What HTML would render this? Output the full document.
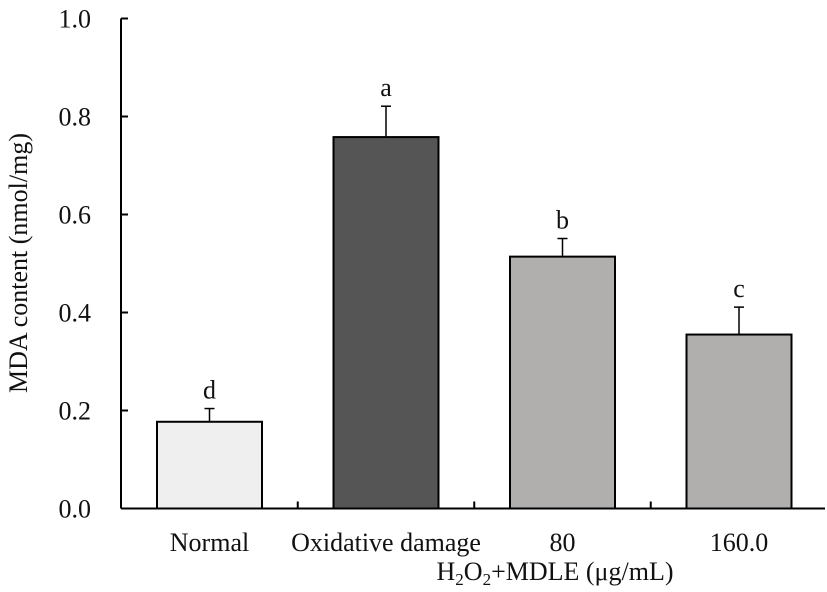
<!DOCTYPE html>
<html><head><meta charset="utf-8"><style>
body{margin:0;background:#fff}
svg text{font-family:"Liberation Serif",serif;fill:#111}
</style></head><body>
<svg id="chart" width="827" height="587" viewBox="0 0 827 587" xmlns="http://www.w3.org/2000/svg">
<g id="plot"></g>
<text transform="translate(27,263) rotate(-90)" text-anchor="middle" font-size="26">MDA content (nmol/mg)</text>
<text x="555" y="580" font-size="26" text-anchor="middle">H<tspan font-size="17" dy="5">2</tspan><tspan dy="-5">O</tspan><tspan font-size="17" dy="5">2</tspan><tspan dy="-5">+MDLE (μg/mL)</tspan></text>
</svg>
<script>
const categories=["Normal","Oxidative damage","80","160.0"];
const values=[0.177,0.758,0.514,0.355];
const errors=[0.027,0.063,0.037,0.056];
const letters=["d","a","b","c"];
const yTicks=[0.0,0.2,0.4,0.6,0.8,1.0];
const yTickLabels=["0.0","0.2","0.4","0.6","0.8","1.0"];
const fills=["#efefef","#555555","#b1aeae","#b1aeae"];

const NS="http://www.w3.org/2000/svg";
const g=document.getElementById('plot');
const x0=121,x1=825,yBase=508.5,yTop=18.5,catW=176.5,barW=105,firstC=209.5;
const y=v=>yBase-(v-0)/(1.0-0)*(yBase-yTop);
const xc=i=>firstC+i*catW;
function mk(tag,attrs){const e=document.createElementNS(NS,tag);for(const k in attrs)e.setAttribute(k,attrs[k]);g.appendChild(e);return e;}
let ya=mk('line',{x1:x0,y1:yTop,x2:x0,y2:yBase,stroke:'#000','stroke-width':2});


let xa=mk('line',{x1:x0,y1:yBase,x2:x1,y2:yBase,stroke:'#000','stroke-width':2});


yTicks.forEach((t,i)=>{
  let tk=mk('line',{x1:x0,y1:y(t),x2:x0+7,y2:y(t),stroke:'#000','stroke-width':2});
  
  
  let tl=mk('text',{x:x0-30,y:y(t)+9,'text-anchor':'end','font-size':26});
  tl.textContent=yTickLabels[i];
  
  
});
for(let i=1;i<categories.length;i++){
  const xt=firstC+(i-0.5)*catW;
  let tk=mk('line',{x1:xt,y1:yBase,x2:xt,y2:yBase-7,stroke:'#000','stroke-width':2});
  
  
}
values.forEach((v,i)=>{
  const cx=xc(i);
  let eb=mk('line',{x1:cx,y1:y(v),x2:cx,y2:y(v+errors[i]),stroke:'#000','stroke-width':1.5});
  
  
  let ec=mk('line',{x1:cx-5,y1:y(v+errors[i]),x2:cx+5,y2:y(v+errors[i]),stroke:'#000','stroke-width':1.5});
  
  
  let b=mk('rect',{x:cx-barW/2,y:y(v),width:barW,height:yBase-y(v),fill:fills[i],stroke:'#000','stroke-width':2});
  
  
  let l=mk('text',{x:cx,y:y(v+errors[i])-10,'text-anchor':'middle','font-size':26});
  l.textContent=letters[i];
  
  
  let c=mk('text',{x:cx,y:551,'text-anchor':'middle','font-size':26});
  c.textContent=categories[i];
  
  
});
</script>
</body></html>
